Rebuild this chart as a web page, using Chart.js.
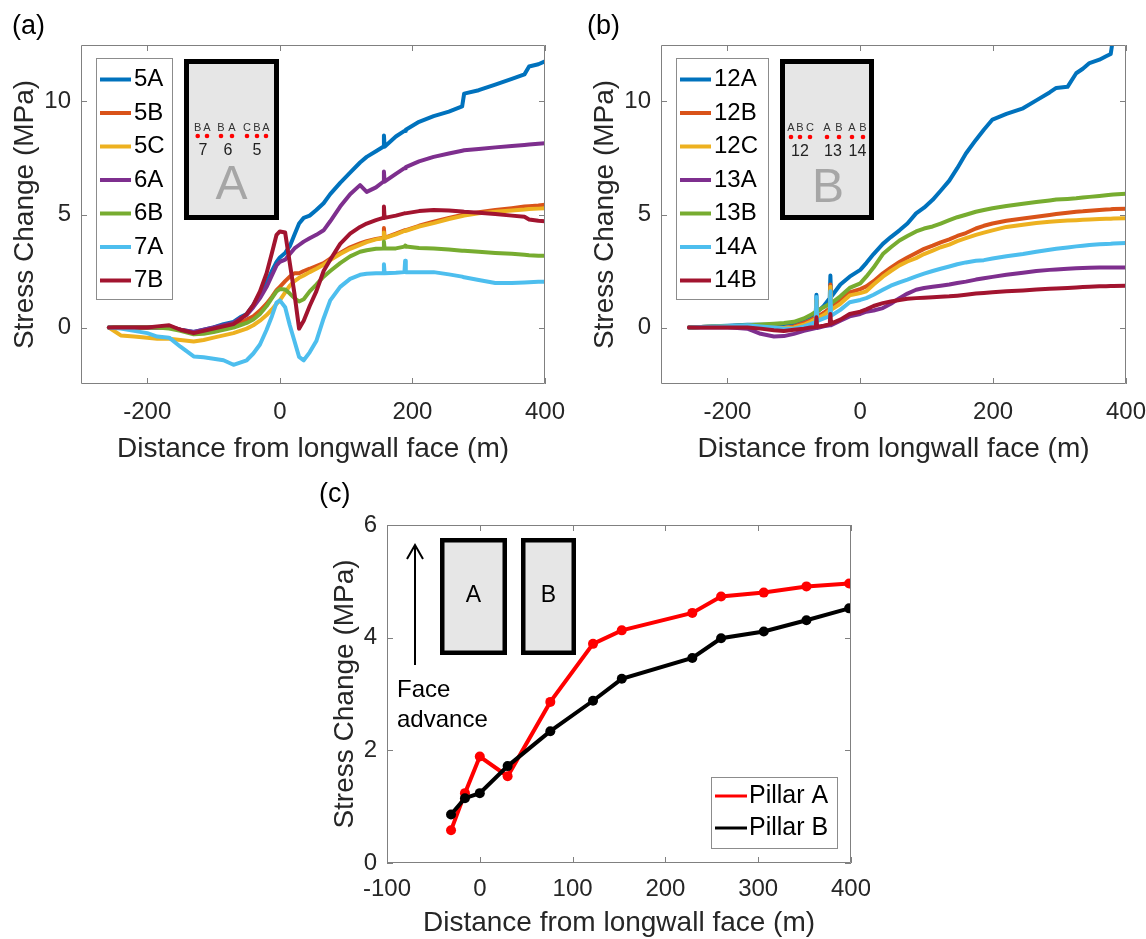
<!DOCTYPE html>
<html>
<head>
<meta charset="utf-8">
<title>Pillar stress change</title>
<script src="https://cdn.jsdelivr.net/npm/chart.js@4.4.1/dist/chart.umd.min.js"></script>
<style>
  html, body { margin: 0; padding: 0; background: #fff; overflow: hidden; }
  #wrap { position: relative; width: 1146px; height: 939px; }
  canvas { position: absolute; }
  #panelA { left: 0; top: 0; }
  #panelB { left: 580px; top: 0; }
  #panelC { left: 310px; top: 480px; }
</style>
</head>
<body>
<div id="wrap">
  <canvas id="panelA" width="575" height="480"></canvas>
  <canvas id="panelB" width="566" height="480"></canvas>
  <canvas id="panelC" width="560" height="459"></canvas>
</div>
<script>
// ---- panel (a): pillars 5-7 ----
const distA = [-258,-240,-220,-200,-185,-167,-150,-130,-115,-100,-85,-70,-60,-50,-40,-30,-20,-12,-5,0,
  8,15,22,29,36,45,55,66,76,91,106,121,131,145,156,157,158,175,188,189,190,210,232,255,275,278,300,325,350,369,376,390,400];
const stress5A = [0,0,0,0,0,0,-0.1,-0.2,-0.1,0,0.15,0.25,0.45,0.6,1.0,1.5,2.0,2.5,2.9,3.1,
  3.3,3.6,4.1,4.6,4.85,4.95,5.2,5.5,5.9,6.4,6.85,7.3,7.55,7.8,8.0,8.5,8.0,8.45,8.7,8.7,
  8.75,9.1,9.35,9.55,9.78,10.35,10.5,10.75,11.0,11.2,11.55,11.65,11.78];
const stress5B = [0,0,0,0,0,0,-0.1,-0.25,-0.2,-0.1,0,0.1,0.2,0.35,0.5,0.75,1.05,1.35,1.65,1.8,
  2.05,2.25,2.4,2.4,2.5,2.6,2.72,2.85,3.05,3.3,3.55,3.72,3.82,3.92,3.97,4.4,3.97,4.15,4.3,4.3,
  4.3,4.5,4.68,4.85,4.98,5.0,5.1,5.2,5.28,5.35,5.37,5.4,5.43];
const stress5C = [0,-0.35,-0.4,-0.45,-0.5,-0.5,-0.55,-0.62,-0.55,-0.45,-0.35,-0.25,-0.15,-0.05,0.1,0.3,0.55,0.8,1.05,1.2,
  1.55,1.85,2.05,2.2,2.3,2.45,2.6,2.78,2.98,3.25,3.48,3.66,3.78,3.9,3.95,4.2,3.95,4.12,4.27,4.27,
  4.27,4.47,4.62,4.8,4.93,4.95,5.05,5.12,5.18,5.22,5.24,5.26,5.28];
const stress6A = [0,0,0,0,0,0.05,-0.1,-0.2,-0.1,0,0.1,0.2,0.4,0.55,0.9,1.3,1.8,2.3,2.75,2.9,
  3.0,3.25,3.5,3.65,3.8,3.95,4.1,4.3,4.7,5.35,5.9,6.3,6.0,6.2,6.45,6.9,6.45,6.8,7.05,7.05,
  7.1,7.35,7.55,7.7,7.82,7.84,7.9,7.97,8.03,8.08,8.1,8.13,8.15];
const stress6B = [0,0,0,0,0,-0.05,-0.15,-0.3,-0.28,-0.2,-0.1,0,0.1,0.2,0.35,0.6,0.95,1.3,1.6,1.7,
  1.68,1.5,1.3,1.15,1.25,1.6,1.9,2.25,2.5,2.85,3.15,3.35,3.42,3.48,3.5,3.8,3.5,3.5,3.58,3.62,
  3.58,3.52,3.5,3.45,3.4,3.4,3.35,3.3,3.26,3.22,3.2,3.18,3.17];
const stress7A = [0,-0.05,-0.15,-0.25,-0.4,-0.45,-0.85,-1.28,-1.32,-1.38,-1.45,-1.65,-1.55,-1.45,-1.15,-0.75,-0.1,0.5,1.1,1.2,
  0.9,0.1,-0.6,-1.3,-1.45,-1.1,-0.6,0.4,1.2,1.8,2.15,2.33,2.38,2.4,2.4,2.8,2.4,2.42,2.45,2.95,
  2.45,2.45,2.45,2.35,2.25,2.22,2.1,1.97,1.97,1.99,2.0,2.02,2.02];
const stress7B = [0,0,0,0,0.05,0.1,-0.1,-0.25,-0.15,-0.05,0.05,0.15,0.35,0.6,1.0,1.6,2.4,3.3,4.1,4.25,
  4.2,2.85,1.5,-0.05,0.3,0.95,1.6,2.5,3.0,3.7,4.15,4.45,4.6,4.75,4.85,5.35,4.85,4.95,5.05,5.05,
  5.05,5.15,5.2,5.18,5.13,5.12,5.08,5.02,4.95,4.9,4.78,4.72,4.7];

// ---- panel (b): pillars 12-14 ----
const distB = [-258,-240,-220,-200,-185,-170,-150,-130,-115,-100,-85,-75,-67,-66,-65,-55,-46,-45,-44,-30,
  -16,0,9,20,34,46,59,71,84,96,109,121,134,146,159,174,186,199,220,245,265,285,295,312,325,335,345,360,370,377,381,400];
const stress12A = [0,0.02,0.05,0.08,0.1,0.12,0.12,0.12,0.15,0.2,0.35,0.5,0.65,1.45,0.68,0.95,1.3,2.3,1.35,1.9,
  2.25,2.55,2.85,3.25,3.7,4.0,4.3,4.6,5.05,5.3,5.65,6.05,6.5,7.05,7.7,8.3,8.75,9.2,9.45,9.7,
  10.05,10.4,10.6,10.65,11.25,11.45,11.7,11.85,12.0,12.1,12.9,null];
const stress12B = [0,0.02,0.03,0.05,0.05,0.05,0.02,0,-0.02,0.05,0.2,0.32,0.45,1.2,0.47,0.65,0.85,1.9,0.88,1.2,
  1.55,1.7,1.82,2.05,2.4,2.65,2.9,3.1,3.3,3.48,3.62,3.77,3.9,4.05,4.18,4.38,4.5,4.6,4.72,4.82,
  4.9,4.98,5.02,5.08,5.12,5.14,5.17,5.2,5.22,5.23,5.24,5.26];
const stress12C = [0,0.02,0.03,0.05,0.05,0.05,0.02,0,-0.02,0,0.12,0.25,0.38,1.2,0.4,0.55,0.75,1.8,0.78,1.05,
  1.42,1.52,1.6,1.9,2.25,2.5,2.75,2.92,3.07,3.25,3.4,3.55,3.67,3.82,3.95,4.1,4.2,4.3,4.45,4.55,
  4.62,4.68,4.7,4.73,4.75,4.77,4.78,4.8,4.81,4.81,4.82,4.83];
const stress13A = [0,0,0,0,-0.02,-0.05,-0.28,-0.4,-0.38,-0.28,-0.15,-0.08,-0.02,-0.02,-0.02,0.05,0.1,0.1,0.1,0.3,
  0.49,0.6,0.7,0.75,0.86,1.05,1.3,1.5,1.67,1.75,1.8,1.85,1.9,1.97,2.03,2.12,2.18,2.24,2.33,2.42,
  2.5,2.55,2.57,2.6,2.62,2.63,2.64,2.65,2.65,2.65,2.66,2.66];
const stress13B = [0,0.02,0.04,0.06,0.08,0.1,0.13,0.17,0.2,0.25,0.4,0.55,0.7,0.72,0.72,0.9,1.05,1.05,1.07,1.38,
  1.75,1.95,2.25,2.65,3.25,3.55,3.85,4.05,4.25,4.38,4.47,4.6,4.75,4.88,4.99,5.12,5.2,5.28,5.38,5.48,
  5.55,5.62,5.66,5.69,5.72,5.75,5.78,5.82,5.85,5.87,5.88,5.92];
const stress14A = [0,0.02,0.04,0.06,0.08,0.1,0.05,0,-0.05,-0.05,0.05,0.15,0.25,1.35,0.28,0.4,0.5,1.6,0.52,0.78,
  1.12,1.22,1.3,1.45,1.67,1.85,2.0,2.12,2.26,2.38,2.5,2.6,2.7,2.8,2.88,2.95,2.98,3.05,3.15,3.25,
  3.35,3.44,3.48,3.54,3.59,3.62,3.65,3.68,3.7,3.71,3.72,3.74];
const stress14B = [0,0,0,0,0,0,-0.05,-0.12,-0.15,-0.1,-0.05,0,0.02,0.45,0.03,0.08,0.15,0.6,0.17,0.35,
  0.6,0.7,0.8,0.95,1.08,1.15,1.22,1.27,1.3,1.32,1.34,1.36,1.38,1.41,1.45,1.5,1.53,1.56,1.6,1.64,
  1.68,1.71,1.73,1.75,1.77,1.79,1.8,1.82,1.83,1.84,1.84,1.85];

// ---- panel (c): pillar averages ----
const distC = [-31,-16,0,30,76,122,153,229,260,306,352,398];
const pillarA = [0.58,1.24,1.89,1.54,2.86,3.89,4.13,4.44,4.73,4.80,4.91,4.96];
const pillarB = [0.86,1.15,1.24,1.72,2.34,2.88,3.27,3.64,3.99,4.11,4.31,4.52];

// tick values
const xTicksAB = [-200, 0, 200, 400];
const yTicksAB = [0, 5, 10];
const xTicksC = [-100, 0, 100, 200, 300, 400];
const yTicksC = [0, 2, 4, 6];

const labelsA = ['5A', '5B', '5C', '6A', '6B', '7A', '7B'];
const labelsB = ['12A', '12B', '12C', '13A', '13B', '14A', '14B'];
const labelsC = ['Pillar A', 'Pillar B'];

const FONT = "'Liberation Sans', Arial, Helvetica, sans-serif";
const INK = '#262626';
const AXIS = '#808080';
const lineColors = ['#0072BD', '#D95319', '#EDB120', '#7E2F8E', '#77AC30', '#4DBEEE', '#A2142F'];

// box outline with inward ticks on all four sides
const boxAxes = {
  id: 'boxAxes',
  afterDatasetsDraw(chart) {
    const { ctx, chartArea: a, scales } = chart;
    const len = 6;
    ctx.save();
    ctx.strokeStyle = AXIS;
    ctx.lineWidth = 1;
    ctx.beginPath();
    ctx.rect(a.left + 0.5, a.top + 0.5, a.width - 1, a.height - 1);
    scales.x.ticks.forEach(t => {
      const px = Math.round(scales.x.getPixelForValue(t.value)) + 0.5;
      ctx.moveTo(px, a.bottom); ctx.lineTo(px, a.bottom - len);
      ctx.moveTo(px, a.top); ctx.lineTo(px, a.top + len);
    });
    scales.y.ticks.forEach(t => {
      const py = Math.round(scales.y.getPixelForValue(t.value)) + 0.5;
      ctx.moveTo(a.left, py); ctx.lineTo(a.left + len, py);
      ctx.moveTo(a.right, py); ctx.lineTo(a.right - len, py);
    });
    ctx.stroke();
    ctx.restore();
  }
};

// legend box sitting inside the axes
const boxLegend = {
  id: 'boxLegend',
  afterDraw(chart, args, o) {
    const { ctx, chartArea: a } = chart;
    const x0 = a.left + o.x, y0 = a.top + o.y;
    ctx.save();
    ctx.fillStyle = '#fff';
    ctx.fillRect(x0, y0, o.w, o.h);
    ctx.strokeStyle = '#8c8c8c';
    ctx.lineWidth = 1;
    ctx.strokeRect(x0 + 0.5, y0 + 0.5, o.w, o.h);
    ctx.font = o.fontSize + 'px ' + FONT;
    ctx.textBaseline = 'middle';
    ctx.textAlign = 'left';
    chart.data.datasets.forEach((ds, i) => {
      const cy = y0 + o.first + i * o.step;
      ctx.strokeStyle = ds.borderColor;
      ctx.lineWidth = o.lineWidth;
      ctx.beginPath();
      ctx.moveTo(x0 + 4, cy);
      ctx.lineTo(x0 + 4 + o.lineLen, cy);
      ctx.stroke();
      ctx.fillStyle = '#000';
      ctx.fillText(ds.label, x0 + o.textX, cy);
    });
    ctx.restore();
  }
};

const panelTag = {
  id: 'panelTag',
  afterDraw(chart, args, o) {
    const ctx = chart.ctx;
    ctx.save();
    ctx.font = '27px ' + FONT;
    ctx.fillStyle = '#000';
    ctx.textBaseline = 'middle';
    ctx.textAlign = 'left';
    ctx.fillText(o.text, o.x, o.y);
    ctx.restore();
  }
};

// grey pillar with red probe dots, drawn for panels (a) and (b)
function pillarInset(o) {
  return {
    id: 'pillarInset',
    afterDatasetsDraw(chart) {
      const { ctx, chartArea: a } = chart;
      const left = a.left + o.x, top = a.top + o.y;
      ctx.save();
      ctx.fillStyle = '#e6e6e6';
      ctx.fillRect(left, top, o.w, o.h);
      ctx.strokeStyle = '#000';
      ctx.lineWidth = 5;
      ctx.strokeRect(left + 2.5, top + 2.5, o.w - 5, o.h - 5);
      ctx.textAlign = 'center';
      ctx.textBaseline = 'middle';
      ctx.font = '48px ' + FONT;
      ctx.fillStyle = '#a6a6a6';
      ctx.fillText(o.big, left + o.bigX, top + o.bigY);
      ctx.font = '11px ' + FONT;
      ctx.fillStyle = '#333';
      o.probes.forEach(([dx, s]) => ctx.fillText(s, left + dx, top + o.letterY));
      ctx.fillStyle = '#ff0000';
      o.probes.forEach(([dx]) => {
        ctx.beginPath();
        ctx.arc(left + dx, top + o.dotY, 2.3, 0, Math.PI * 2);
        ctx.fill();
      });
      ctx.font = '16px ' + FONT;
      ctx.fillStyle = '#222';
      o.numbers.forEach(([dx, s]) => ctx.fillText(s, left + dx, top + o.numY));
      ctx.restore();
    }
  };
}

// two pillars and the face advance arrow in panel (c)
const layoutSketch = {
  id: 'layoutSketch',
  afterDatasetsDraw(chart) {
    const { ctx, chartArea: a } = chart;
    const L = a.left, T = a.top;
    ctx.save();
    [[53, 67, 'A'], [134, 55, 'B']].forEach(([dx, w, s]) => {
      ctx.fillStyle = '#e6e6e6';
      ctx.fillRect(L + dx, T + 13, w, 117);
      ctx.strokeStyle = '#000';
      ctx.lineWidth = 4.5;
      ctx.strokeRect(L + dx + 2.25, T + 15.25, w - 4.5, 112.5);
      ctx.fillStyle = '#000';
      ctx.font = '23px ' + FONT;
      ctx.textAlign = 'center';
      ctx.textBaseline = 'middle';
      ctx.fillText(s, L + dx + w / 2, T + 71);
    });
    ctx.strokeStyle = '#000';
    ctx.lineWidth = 2;
    ctx.beginPath();
    ctx.moveTo(L + 28, T + 140);
    ctx.lineTo(L + 28, T + 20);
    ctx.moveTo(L + 20, T + 34);
    ctx.lineTo(L + 28, T + 20);
    ctx.lineTo(L + 36, T + 34);
    ctx.stroke();
    ctx.font = '24px ' + FONT;
    ctx.textAlign = 'left';
    ctx.textBaseline = 'alphabetic';
    ctx.fillStyle = '#000';
    ctx.fillText('Face', L + 10, T + 172);
    ctx.fillText('advance', L + 10, T + 202);
    ctx.restore();
  }
};

function axisOptions(c) {
  const tickFont = { family: FONT, size: 24 };
  const titleFont = { family: FONT, size: 28, lineHeight: 1 };
  return {
    x: {
      type: 'linear', min: c.xMin, max: c.xMax,
      grid: { display: false, drawTicks: false },
      border: { display: false },
      afterBuildTicks: s => { s.ticks = c.xTicks.map(v => ({ value: v })); },
      ticks: { font: tickFont, color: INK, padding: c.xTickPad, maxRotation: 0, autoSkip: false, callback: v => String(v) },
      title: { display: true, text: 'Distance from longwall face (m)', font: titleFont, color: INK, padding: { top: 0, bottom: c.xTitlePad } },
      afterFit: s => { s.height = c.xHeight; s.paddingLeft = 0; s.paddingRight = 0; }
    },
    y: {
      type: 'linear', min: c.yMin, max: c.yMax,
      grid: { display: false, drawTicks: false },
      border: { display: false },
      afterBuildTicks: s => { s.ticks = c.yTicks.map(v => ({ value: v })); },
      ticks: { font: tickFont, color: INK, padding: 10, autoSkip: false, callback: v => String(v) },
      title: { display: true, text: 'Stress Change (MPa)', font: titleFont, color: INK, padding: { top: c.yTitlePad, bottom: 0 } },
      afterFit: s => { s.width = c.yWidth; s.paddingTop = 0; s.paddingBottom = 0; }
    }
  };
}

function traceSets(dist, series, labels) {
  return series.map((vals, i) => ({
    label: labels[i],
    data: dist.map((x, k) => ({ x, y: vals[k] })),
    borderColor: lineColors[i],
    backgroundColor: lineColors[i],
    borderWidth: 4,
    pointRadius: 0,
    tension: 0,
    fill: false,
    borderJoinStyle: 'round',
    borderCapStyle: 'round',
    order: series.length - 1 - i
  }));
}

const baseOptions = {
  responsive: false,
  devicePixelRatio: 1,
  animation: false,
  events: []
};

new Chart(document.getElementById('panelA'), {
  type: 'line',
  data: { datasets: traceSets(distA, [stress5A, stress5B, stress5C, stress6A, stress6B, stress7A, stress7B], labelsA) },
  options: {
    ...baseOptions,
    layout: { padding: { top: 45, right: 30, left: 0, bottom: 0 } },
    scales: axisOptions({ xMin: -300, xMax: 400, yMin: -2.5, yMax: 12.5, xTicks: xTicksAB, yTicks: yTicksAB,
      yWidth: 81, xHeight: 96, xTickPad: 14, xTitlePad: 17, yTitlePad: 11 }),
    plugins: {
      legend: { display: false }, tooltip: { enabled: false },
      boxLegend: { x: 15, y: 13, w: 76, h: 241, first: 21.5, step: 33.5, lineLen: 31, lineWidth: 4, textX: 38, fontSize: 24 },
      panelTag: { text: '(a)', x: 12, y: 27 }
    }
  },
  plugins: [boxAxes, pillarInset({
    x: 103, y: 14, w: 95, h: 161, big: 'A', bigX: 47.5, bigY: 127,
    letterY: 69, dotY: 77, numY: 92,
    probes: [[13.7, 'B'], [23, 'A'], [37, 'B'], [48, 'A'], [63, 'C'], [73, 'B'], [82, 'A']],
    numbers: [[19, '7'], [44, '6'], [73, '5']]
  }), boxLegend, panelTag]
});

new Chart(document.getElementById('panelB'), {
  type: 'line',
  data: { datasets: traceSets(distB, [stress12A, stress12B, stress12C, stress13A, stress13B, stress14A, stress14B], labelsB) },
  options: {
    ...baseOptions,
    layout: { padding: { top: 45, right: 20, left: 0, bottom: 0 } },
    scales: axisOptions({ xMin: -300, xMax: 400, yMin: -2.5, yMax: 12.5, xTicks: xTicksAB, yTicks: yTicksAB,
      yWidth: 81, xHeight: 96, xTickPad: 14, xTitlePad: 17, yTitlePad: 11 }),
    plugins: {
      legend: { display: false }, tooltip: { enabled: false },
      boxLegend: { x: 15, y: 13, w: 92, h: 241, first: 21.5, step: 33.5, lineLen: 31, lineWidth: 4, textX: 38, fontSize: 24 },
      panelTag: { text: '(b)', x: 7, y: 27 }
    }
  },
  plugins: [boxAxes, pillarInset({
    x: 119, y: 14, w: 94, h: 161, big: 'B', bigX: 48, bigY: 130,
    letterY: 69, dotY: 78, numY: 93,
    probes: [[11, 'A'], [20, 'B'], [30, 'C'], [47, 'A'], [59, 'B'], [72, 'A'], [83, 'B']],
    numbers: [[20, '12'], [53, '13'], [77.5, '14']]
  }), boxLegend, panelTag]
});

const pillarColors = ['#ff0000', '#000000'];
new Chart(document.getElementById('panelC'), {
  type: 'line',
  data: {
    datasets: [pillarA, pillarB].map((vals, i) => ({
      label: labelsC[i],
      data: distC.map((x, k) => ({ x, y: vals[k] })),
      borderColor: pillarColors[i],
      backgroundColor: pillarColors[i],
      pointBackgroundColor: pillarColors[i],
      pointBorderWidth: 0,
      pointRadius: 5,
      borderWidth: 4,
      tension: 0,
      fill: false,
      order: 1 - i
    }))
  },
  options: {
    ...baseOptions,
    layout: { padding: { top: 45, right: 19, left: 0, bottom: 0 } },
    scales: axisOptions({ xMin: -100, xMax: 400, yMin: 0, yMax: 6, xTicks: xTicksC, yTicks: yTicksC,
      yWidth: 77, xHeight: 76, xTickPad: 12, xTitlePad: 2, yTitlePad: 21 }),
    plugins: {
      legend: { display: false }, tooltip: { enabled: false },
      boxLegend: { x: 324, y: 252, w: 126, h: 71, first: 19, step: 32, lineLen: 32, lineWidth: 3, textX: 38, fontSize: 25 },
      panelTag: { text: '(c)', x: 9, y: 15 }
    }
  },
  plugins: [boxAxes, layoutSketch, boxLegend, panelTag]
});
</script>
</body>
</html>
